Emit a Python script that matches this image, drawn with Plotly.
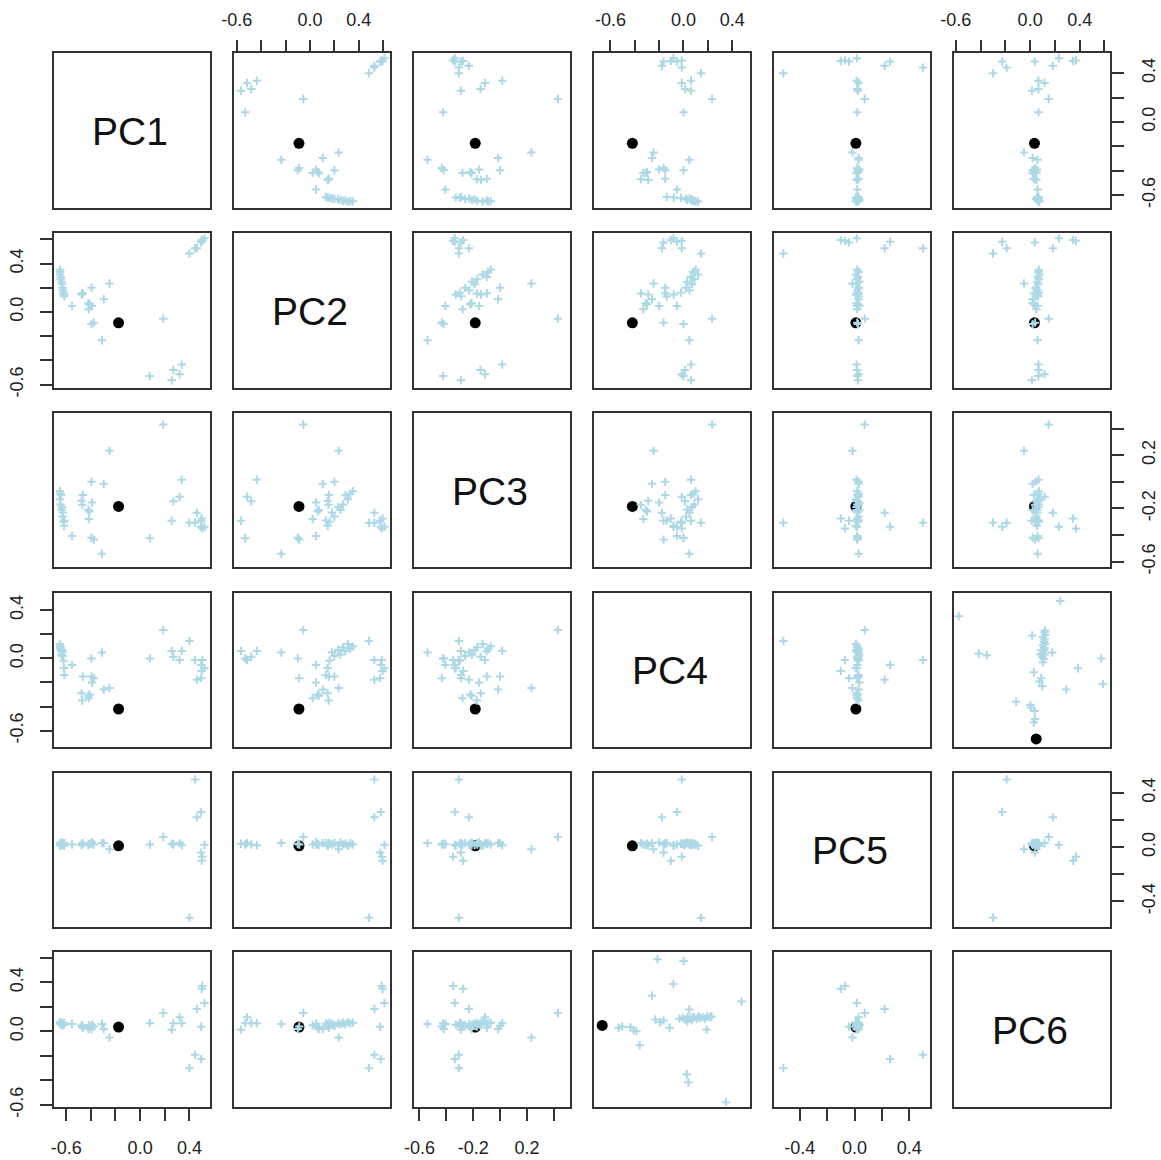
import plotly.graph_objects as go

W, H = 1161, 1160
names = ["PC1", "PC2", "PC3", "PC4", "PC5", "PC6"]

# ---- data (one entry per observation) ----
PC1 = [0.522, 0.50, 0.495, 0.495, 0.40, 0.446, 0.46, 0.505,
       0.079, 0.256, 0.27, 0.32, 0.338,
       0.188,
       -0.553, -0.47, -0.475, -0.465, -0.395, -0.249, -0.295, -0.417, -0.41, -0.42, -0.39, -0.376, -0.395, -0.31,
       -0.65, -0.648, -0.652, -0.642, -0.646, -0.638, -0.634, -0.63, -0.627, -0.622, -0.618, -0.615]
PC2 = [0.61, 0.594, 0.58, 0.575, 0.483, 0.527, 0.527, 0.588,
       -0.53, -0.565, -0.48, -0.515, -0.435,
       -0.055,
       0.05, 0.152, 0.145, 0.155, 0.20, 0.235, 0.105, 0.022, 0.064, 0.072, 0.05, -0.088, -0.10, -0.234,
       0.35, 0.33, 0.31, 0.29, 0.27, 0.25, 0.23, 0.20, 0.18, 0.16, 0.145, 0.13]
PC3 = [-0.337, -0.275, -0.337, -0.292, -0.307, -0.307, -0.233, -0.35,
       -0.424, -0.292, -0.146, -0.113, 0.016,
       0.43,
       -0.407, -0.173, -0.143, -0.099, 0.0, 0.233, -0.015, -0.28, -0.222, -0.212, -0.156, -0.434, -0.42, -0.54,
       -0.07, -0.09, -0.13, -0.10, -0.17, -0.21, -0.19, -0.26, -0.23, -0.30, -0.33, -0.29]
PC4 = [-0.082, -0.104, -0.054, -0.164, 0.144, -0.014, -0.177, -0.014,
       0.0, 0.062, 0.013, -0.014, 0.062,
       0.235,
       -0.054, -0.35, -0.29, -0.15, -0.15, -0.246, -0.259, -0.33, -0.30, -0.31, -0.2, -0.164, 0.0, 0.048,
       0.10, 0.08, 0.12, 0.06, 0.09, 0.03, 0.07, 0.02, 0.05, -0.02, -0.08, -0.137]
PC5 = [0.017, -0.10, 0.26, -0.04, -0.52, 0.50, 0.22, -0.07,
       0.02, 0.025, 0.02, 0.03, 0.015,
       0.075,
       0.02, 0.03, 0.015, 0.025, 0.03, -0.015, 0.03, 0.02, 0.025, 0.015, 0.035, 0.02, 0.025, 0.03,
       0.02, 0.03, 0.01, 0.025, 0.02, 0.035, 0.015, 0.03, 0.02, 0.025, 0.01, 0.03]
PC6 = [0.232, 0.347, -0.226, 0.038, -0.30, -0.19, 0.183, 0.37,
       0.067, 0.014, 0.067, 0.116, 0.067,
       0.15,
       0.06, 0.04, 0.05, 0.03, 0.045, -0.05, 0.02, 0.05, 0.035, 0.02, 0.055, 0.04, 0.02, 0.06,
       0.07, 0.065, 0.075, 0.06, 0.07, 0.055, 0.065, 0.05, 0.06, 0.07, 0.055, 0.065]

# highlighted observation (black dot)
black_pt = {"PC1": -0.175, "PC2": -0.09, "PC3": -0.185, "PC4": -0.42, "PC5": 0.01, "PC6": 0.035}

# the PC4 / PC6 panels show their own point cloud
pc4_vs_pc6_x = [-0.213, 0.0, -0.082, -0.259, 0.477, 0.048,
                -0.033, -0.006, 0.013, 0.032, 0.048, 0.067, 0.086, 0.108, 0.122, 0.135, 0.157, 0.176, 0.195, 0.217, 0.231,
                0.032, 0.19, 0.07,
                -0.232, -0.191, -0.164, -0.115, -0.532, -0.504, -0.436, -0.41, -0.387, -0.36,
                0.027, 0.04, 0.35]
pc4_vs_pc6_y = [0.588, 0.574, 0.386, 0.291, 0.243, 0.178,
                0.103, 0.111, 0.097, 0.116, 0.103, 0.111, 0.116, 0.103, 0.121, 0.111, 0.116, 0.103, 0.121, 0.116, 0.121,
                0.083, 0.016, 0.09,
                0.097, 0.075, 0.089, 0.03, 0.03, 0.04, 0.035, 0.008, 0.002, -0.113,
                -0.35, -0.415, -0.577]
black_pc4_vs_pc6 = (-0.668, 0.049)

axis_range = {"PC1": [-0.703, 0.563], "PC2": [-0.625, 0.652], "PC3": [-0.643, 0.518],
              "PC4": [-0.737, 0.545], "PC5": [-0.589, 0.551], "PC6": [-0.615, 0.645]}
tick_vals = {"PC1": [-0.6, -0.4, -0.2, 0.0, 0.2, 0.4],
             "PC2": [-0.6, -0.4, -0.2, 0.0, 0.2, 0.4, 0.6],
             "PC3": [-0.6, -0.4, -0.2, 0.0, 0.2, 0.4],
             "PC4": [-0.6, -0.4, -0.2, 0.0, 0.2, 0.4],
             "PC5": [-0.4, -0.2, 0.0, 0.2, 0.4],
             "PC6": [-0.6, -0.4, -0.2, 0.0, 0.2, 0.4, 0.6]}
tick_text = {"PC1": ["-0.6", "", "", "0.0", "", "0.4"],
             "PC2": ["-0.6", "", "", "0.0", "", "0.4", ""],
             "PC3": ["-0.6", "", "-0.2", "", "0.2", ""],
             "PC4": ["-0.6", "", "", "0.0", "", "0.4"],
             "PC5": ["-0.4", "", "0.0", "", "0.4"],
             "PC6": ["-0.6", "", "", "0.0", "", "0.4", ""]}

data = {"PC1": PC1, "PC2": PC2, "PC3": PC3, "PC4": PC4, "PC5": PC5, "PC6": PC6}

# ---- layout geometry (pixels) ----
col_left = [53.5 + 180.1 * k for k in range(6)]
row_top = [53.3 + 179.8 * k for k in range(6)]
PW, PH = 156.0, 154.5

LINE = "#333333"
BLUE = "#ADD8E6"
FONT = "Liberation Sans, Arial, Helvetica, sans-serif"

fig = go.Figure()
layout = dict(width=W, height=H, margin=dict(l=0, r=0, t=0, b=0, autoexpand=False),
              paper_bgcolor="white", plot_bgcolor="white", showlegend=False,
              hovermode=False, font=dict(family=FONT, color="#222222"))
annotations = []

for i in range(6):
    for j in range(6):
        n = i * 6 + j + 1
        xs = "" if n == 1 else str(n)
        xname, yname = "xaxis" + xs, "yaxis" + xs
        xref, yref = "x" + xs, "y" + xs
        vx, vy = names[j], names[i]
        xa = dict(domain=[col_left[j] / W, (col_left[j] + PW) / W],
                  range=axis_range[vx], anchor=yref, showgrid=False, zeroline=False,
                  showline=True, mirror=True, linecolor=LINE, linewidth=1.5,
                  ticks="", showticklabels=False, fixedrange=True, automargin=False)
        ya = dict(domain=[1 - (row_top[i] + PH) / H, 1 - row_top[i] / H],
                  range=axis_range[vy], anchor=xref, showgrid=False, zeroline=False,
                  showline=True, mirror=True, linecolor=LINE, linewidth=1.5,
                  ticks="", showticklabels=False, fixedrange=True, automargin=False)
        tick_style = dict(ticks="outside", ticklen=12, tickwidth=1.5, tickcolor=LINE,
                          showticklabels=True, tickfont=dict(size=18, family=FONT, color="#222222"))
        if i == 5 and j % 2 == 0:
            xa.update(tick_style, side="bottom", tickvals=tick_vals[vx], ticktext=tick_text[vx],
                      ticklabelstandoff=12)
        if i == 0 and j % 2 == 1:
            xa.update(tick_style, side="top", tickvals=tick_vals[vx], ticktext=tick_text[vx],
                      ticklabelstandoff=6)
        if j == 0 and i % 2 == 1:
            ya.update(tick_style, side="left", tickvals=tick_vals[vy], ticktext=tick_text[vy],
                      tickangle=-90, ticklabelstandoff=10)
        if j == 5 and i % 2 == 0:
            ya.update(tick_style, side="right", tickvals=tick_vals[vy], ticktext=tick_text[vy],
                      tickangle=-90, ticklabelstandoff=10)
        layout[xname] = xa
        layout[yname] = ya

        if i == j:
            annotations.append(dict(x=0.5 * (axis_range[vx][0] + axis_range[vx][1]),
                                    y=0.5 * (axis_range[vy][0] + axis_range[vy][1]),
                                    xref=xref, yref=yref, text=vx, showarrow=False,
                                    xshift=-2, yshift=-1,
                                    font=dict(size=39, family=FONT, color="#111111")))
            continue

        if {vx, vy} == {"PC4", "PC6"}:
            if vx == "PC4":
                px, py = pc4_vs_pc6_x, pc4_vs_pc6_y
                bx, by = black_pc4_vs_pc6
            else:
                px, py = pc4_vs_pc6_y, pc4_vs_pc6_x
                by, bx = black_pc4_vs_pc6
        else:
            px, py = data[vx], data[vy]
            bx, by = black_pt[vx], black_pt[vy]

        fig.add_trace(go.Scatter(x=[bx], y=[by], xaxis=xref, yaxis=yref, mode="markers",
                                 marker=dict(color="black", size=11, symbol="circle"),
                                 hoverinfo="skip", cliponaxis=True))
        fig.add_trace(go.Scatter(x=px, y=py, xaxis=xref, yaxis=yref, mode="markers",
                                 marker=dict(symbol="cross-thin", size=6,
                                             line=dict(color=BLUE, width=2), color=BLUE),
                                 hoverinfo="skip", cliponaxis=True))

layout["annotations"] = annotations
fig.update_layout(**layout)
fig.write_html("out.html")
